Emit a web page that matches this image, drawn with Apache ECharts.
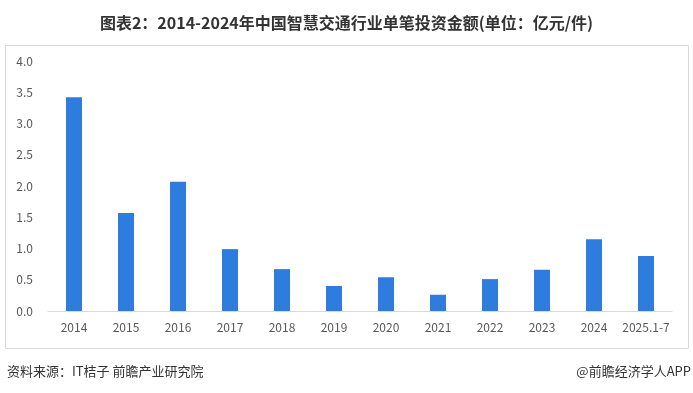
<!DOCTYPE html>
<html>
<head>
<meta charset="utf-8">
<script src="https://cdn.jsdelivr.net/npm/echarts@6/dist/echarts.min.js"></script>
<style>
html,body{margin:0;padding:0;background:#fff;}
#main{width:693px;height:393px;}
</style>
</head>
<body>
<div id="main"></div>
<script>
var categories = ['2014','2015','2016','2017','2018','2019','2020','2021','2022','2023','2024','2025.1-7'];
var values = [3.42, 1.57, 2.07, 0.99, 0.67, 0.40, 0.54, 0.26, 0.51, 0.66, 1.15, 0.88];
var yTicks = { min: 0, max: 4, interval: 0.5 };
var titleText = '图表2：2014-2024年中国智慧交通行业单笔投资金额(单位：亿元/件)';
var sourceText = '资料来源：IT桔子 前瞻产业研究院';
var brandText = '@前瞻经济学人APP';

var chart = echarts.init(document.getElementById('main'), null, {renderer:'canvas'});
var font = '"Noto Sans CJK SC", "Microsoft YaHei", sans-serif';
chart.setOption({
  backgroundColor: '#fff',
  animation: false,
  title: {
    text: titleText,
    left: 'center',
    top: 10,
    textStyle: { fontSize: 16, fontWeight: 'bold', color: '#333', fontFamily: font }
  },
  graphic: [
    { type: 'rect', shape: { x: 5.5, y: 45.5, width: 683, height: 303 },
      style: { fill: 'none', stroke: '#d9d9d9', lineWidth: 1 }, silent: true },
    { type: 'text', left: 7, top: 365,
      style: { text: sourceText, font: '13px ' + font, fill: '#333' } },
    { type: 'text', right: 2, top: 365,
      style: { text: brandText, font: '13px ' + font, fill: '#333' } }
  ],
  grid: { left: 48, right: 21, top: 61, bottom: 82, containLabel: false },
  xAxis: {
    type: 'category',
    data: categories,
    axisLine: { lineStyle: { color: '#d9d9d9' } },
    axisTick: { show: false },
    axisLabel: { color: '#595959', fontSize: 12, margin: 10, interval: 0, fontFamily: font }
  },
  yAxis: {
    type: 'value',
    min: yTicks.min, max: yTicks.max, interval: yTicks.interval,
    axisLine: { show: false },
    axisTick: { show: false },
    splitLine: { show: false },
    axisLabel: { color: '#595959', fontSize: 12, margin: 15, fontFamily: font,
      formatter: function (v) { return v.toFixed(1); } }
  },
  series: [{
    type: 'bar',
    data: values,
    barWidth: 16,
    itemStyle: { color: '#2E7CDE' }
  }]
});
</script>
</body>
</html>
